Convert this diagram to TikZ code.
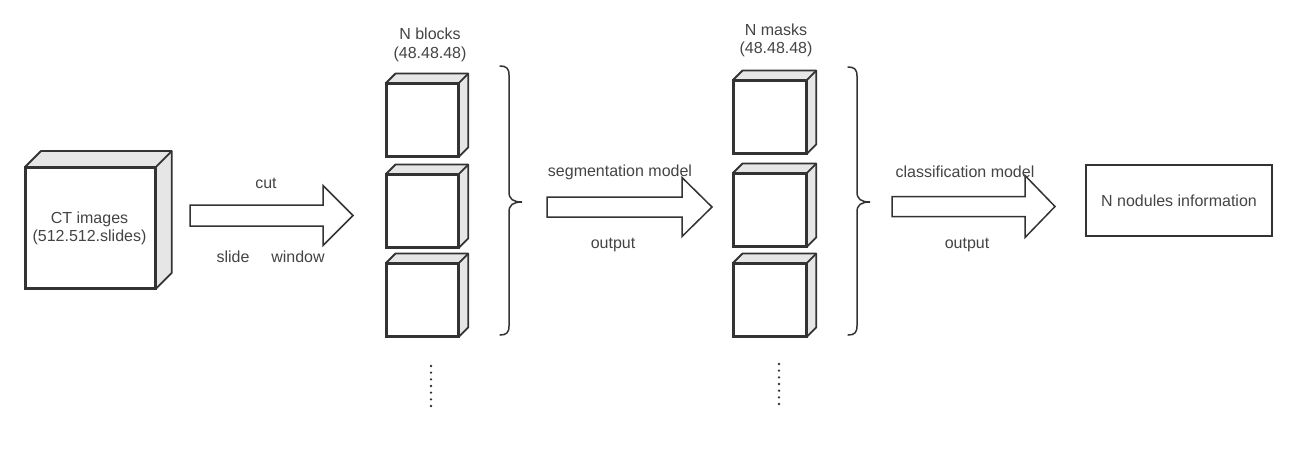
\documentclass[tikz,border=0pt]{standalone}
\usepackage{fontspec}
\setmainfont{Liberation Sans}
\definecolor{linec}{HTML}{333333}
\definecolor{sidec}{HTML}{E6E6E6}
\definecolor{textc}{HTML}{444444}
\tikzset{
  face/.style={draw=linec, line width=1.8pt, fill=white, inner sep=0pt, anchor=north west},
  sideface/.style={draw=linec, line width=1.8pt, fill=sidec, line join=round},
  lbl/.style={text=textc, font=\fontsize{16}{17.5}\selectfont, inner sep=0pt, align=center},
  barrowstyle/.style={draw=linec, line width=1.5pt, fill=white, line join=miter},
  bracestyle/.style={draw=linec, line width=1.5pt, line cap=round},
  dotstyle/.style={fill=linec, draw=none}
}
% cube: name, x, y (front top-left), width, height, depth
\newcommand\mycube[6]{%
  \node[face, minimum width=#4pt, minimum height=#5pt] (#1) at (#2,#3) {};
  \fill[sidec] (#1.north west) -- ++(#6pt,#6pt) -- ([shift={(#6pt,#6pt)}]#1.north east) -- (#1.north east) -- cycle;
  \fill[sidec] (#1.north east) -- ++(#6pt,#6pt) -- ([shift={(#6pt,#6pt)}]#1.south east) -- (#1.south east) -- cycle;
  \draw[sideface, fill=none] (#1.north west) -- ++(#6pt,#6pt) -- ([shift={(#6pt,#6pt)}]#1.north east) -- ([shift={(#6pt,#6pt)}]#1.south east) -- (#1.south east);
  \draw[sideface, fill=none] (#1.north east) -- ++(#6pt,#6pt);
  \draw[draw=linec, line width=1.8pt] (#1.north west) rectangle (#1.south east);
}
% block arrow: name, x0, y, xbase, xtip, half shaft, half head
\newcommand\myblockarrow[7]{%
  \coordinate (#1) at (#2,#3);
  \coordinate (#1tip) at (#5,#3);
  \draw[barrowstyle] ([yshift=#6pt]#1) -- ([yshift=#6pt]#4,#3) -- ([yshift=#7pt]#4,#3) -- (#1tip)
     -- ([yshift=-#7pt]#4,#3) -- ([yshift=-#6pt]#4,#3) -- ([yshift=-#6pt]#1) -- cycle;
}
\begin{document}
\begin{tikzpicture}[x=1pt,y=-1pt]
\useasboundingbox (0,0) rectangle (1314,451);

% CT cube
\mycube{ct}{25}{167}{129}{120}{16}
\node[lbl] (cttext) at (89.5,228.5) {CT images\\[1pt](512.512.slides)};

% arrow 1
\myblockarrow{arr1}{190}{215.5}{323}{353}{10.5}{30}
\node[lbl] (cut) at (266,183) {cut};
\node[lbl] (slide) at (233,257) {slide};
\node[lbl] (window) at (298,257) {window};

% blocks
\node[lbl] (blockslbl) at (430,45) {N blocks\\[1pt](48.48.48)};
\mycube{b1}{386}{83}{71}{72}{9.5}
\mycube{b2}{386}{174}{71}{72}{9.5}
\mycube{b3}{386}{263}{71}{72}{9.5}
\foreach \i in {0,...,6} \fill[dotstyle] (431,366+\i*6.67) circle (1.3pt);

% brace 1
\coordinate (br1) at (522,202);
\draw[bracestyle] (500,66) .. controls (506,66) and (509,68) .. (509,75) -- (509,192)
  .. controls (509,199) and (513,202) .. (br1)
  .. controls (513,202) and (509,205) .. (509,212) -- (509,326)
  .. controls (509,333) and (506,335) .. (500,335);

% arrow 2
\myblockarrow{arr2}{547}{207}{682}{712}{10}{29.5}
\node[lbl] (seg) at (620,172) {segmentation model};
\node[lbl] (out1) at (613,245) {output};

% masks
\node[lbl] (maskslbl) at (776,40.5) {N masks\\[1pt](48.48.48)};
\mycube{m1}{733}{80}{72}{72}{9.5}
\mycube{m2}{733}{173}{72}{72}{9.5}
\mycube{m3}{733}{263}{72}{72}{9.5}
\foreach \i in {0,...,6} \fill[dotstyle] (779,364+\i*6.67) circle (1.3pt);

% brace 2
\coordinate (br2) at (870,202);
\draw[bracestyle] (848,67) .. controls (854,67) and (857,69) .. (857,76) -- (857,192)
  .. controls (857,199) and (861,202) .. (br2)
  .. controls (861,202) and (857,205) .. (857,212) -- (857,326)
  .. controls (857,333) and (854,335) .. (848,335);

% arrow 3
\myblockarrow{arr3}{892}{206.5}{1025}{1055}{10}{31}
\node[lbl] (cls) at (965,172) {classification model};
\node[lbl] (out2) at (967,245) {output};

% result box
\node[draw=linec, line width=1.5pt, minimum width=186pt, minimum height=71pt, inner sep=0pt, lbl] (res) at (1179,200.5) {N nodules information};
\end{tikzpicture}
\end{document}
